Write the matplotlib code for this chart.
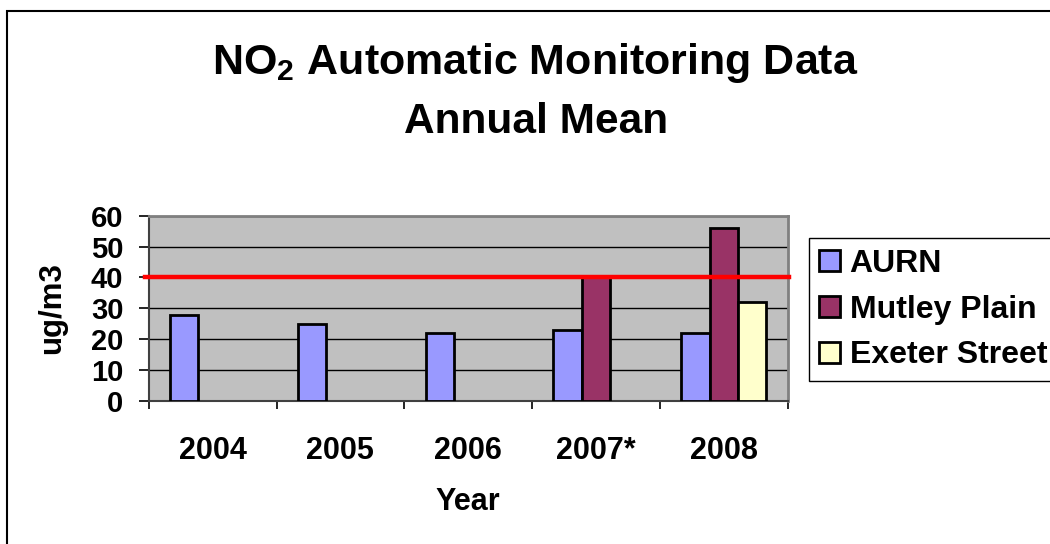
import numpy as np
import matplotlib
matplotlib.use('Agg')
import matplotlib.pyplot as plt
from matplotlib.patches import Rectangle

plt.rcParams['font.family'] = 'Liberation Sans'
plt.rcParams['font.weight'] = 'bold'
plt.rcParams['mathtext.fontset'] = 'custom'
plt.rcParams['mathtext.rm'] = 'Liberation Sans:bold'
plt.rcParams['mathtext.default'] = 'rm'

years = ['2004', '2005', '2006', '2007*', '2008']
aurn = [28, 25, 22, 23, 22]
mutley = [None, None, None, 40, 56]
exeter = [None, None, None, None, 32]
objective = 40

series = [('AURN', aurn, '#9999FF'),
          ('Mutley Plain', mutley, '#993366'),
          ('Exeter Street', exeter, '#FFFFCC')]

fig = plt.figure(figsize=(10.5, 5.44), dpi=100)
ax = fig.add_axes([148.7 / 1050, 1 - 401 / 544, 639 / 1050, 185.3 / 544])
ax.set_facecolor('#C0C0C0')

x = np.arange(len(years))
w = 1 / 4.5
for i, (name, vals, col) in enumerate(series):
    v = np.array([np.nan if a is None else a for a in vals], dtype=float)
    ax.bar(x + (i - 1) * w, v, w, color=col, edgecolor='black', linewidth=2,
           label=name, zorder=3)

# 40 ug/m3 objective line
ax.plot([-0.53, 4.51], [objective, objective], color='#FF0000', lw=3.2,
        clip_on=False, zorder=5)

ax.set_xlim(-0.5, 4.5)
ax.set_ylim(0, 60)
ax.set_yticks(range(0, 61, 10))
ax.yaxis.grid(True, color='black', lw=1)
ax.set_axisbelow(True)
ax.tick_params(axis='y', direction='out', length=7.2, width=1.2, pad=11,
               labelsize=21)
ax.set_xticks(np.arange(-0.5, 5, 1))
ax.set_xticklabels([])
ax.set_xticks(x, minor=True)
ax.set_xticklabels(years, minor=True, fontsize=22)
ax.tick_params(axis='x', which='major', direction='out', length=6, width=1.2)
ax.tick_params(axis='x', which='minor', length=0, pad=25)

for s in ['left', 'bottom']:
    ax.spines[s].set_color('#404040')
    ax.spines[s].set_linewidth(1.5)
for s in ['top', 'right']:
    ax.spines[s].set_color('#808080')
    ax.spines[s].set_linewidth(2)

fig.text(535 / 1050, 1 - 74.3 / 544, 'NO$_2$ Automatic Monitoring Data',
         ha='center', va='baseline', fontsize=31, fontweight='bold')
fig.text(536 / 1050, 1 - 133.3 / 544, 'Annual Mean',
         ha='center', va='baseline', fontsize=30.5, fontweight='bold')
fig.text(467.5 / 1050, 1 - 510 / 544, 'Year', ha='center', va='baseline',
         fontsize=22, fontweight='bold')
fig.text(52 / 1050, 1 - 308 / 544, 'ug/m3', ha='center', va='center',
         rotation=90, fontsize=22.5, fontweight='bold')

leg = fig.legend(loc='upper left', bbox_to_anchor=(808.7 / 1050, 1 - 238 / 544),
                 borderaxespad=0, fancybox=False, edgecolor='black',
                 framealpha=1, fontsize=23, handlelength=0.65, handleheight=0.65,
                 handletextpad=0.3, labelspacing=0.5, borderpad=0.33)
leg.get_frame().set_linewidth(1)

fig.patches.append(Rectangle((7 / 1050, -0.1), 1.2, 1.1 - 11 / 544,
                             transform=fig.transFigure, fill=False,
                             edgecolor='black', lw=1.5))

fig.savefig('out.png', dpi=100)
